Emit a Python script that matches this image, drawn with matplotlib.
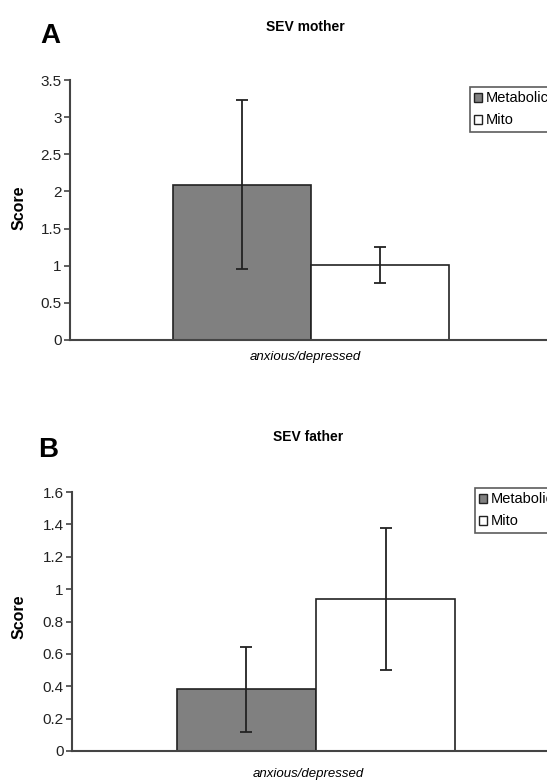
import matplotlib.pyplot as plt
from matplotlib.patches import Patch

plt.rcParams['font.family'] = ['Liberation Sans', 'DejaVu Sans']

groups = ["Metabolic", "Mito"]
category = "anxious/depressed"

mother_means = [2.09, 1.01]
mother_err = [1.14, 0.245]
mother_ticks = [0, 0.5, 1, 1.5, 2, 2.5, 3, 3.5]
mother_tick_labels = ["0", "0.5", "1", "1.5", "2", "2.5", "3", "3.5"]

father_means = [0.38, 0.94]
father_err = [0.265, 0.44]
father_ticks = [0, 0.2, 0.4, 0.6, 0.8, 1, 1.2, 1.4, 1.6]
father_tick_labels = ["0", "0.2", "0.4", "0.6", "0.8", "1", "1.2", "1.4", "1.6"]

colors = ["#808080", "white"]

W, H = 547, 782
fig = plt.figure(figsize=(W / 100, H / 100), dpi=100)


def panel(rect, means, errs, ticks, tick_labels, title, letter,
          letter_xy, title_xy, score_xy, cat_xy, legend_xy):
    ax = fig.add_axes(rect)
    xpos = [-0.5, 0.5]
    ax.bar(xpos, means, width=1.0, color=colors, edgecolor="#222222",
           linewidth=1.2, zorder=2)
    ax.errorbar(xpos, means, yerr=errs, fmt="none", ecolor="#222222",
                elinewidth=1.3, capsize=4.5, capthick=1.3, zorder=3)
    ax.set_xlim(-1.75, 1.75)
    ax.set_ylim(ticks[0], ticks[-1])
    ax.set_yticks(ticks)
    ax.set_yticklabels(tick_labels, fontsize=11, color="#222222")
    ax.set_xticks([])
    for s in ["top", "right"]:
        ax.spines[s].set_visible(False)
    for s in ["left", "bottom"]:
        ax.spines[s].set_color("#444444")
        ax.spines[s].set_linewidth(1.5)
    ax.tick_params(axis="y", direction="out", length=4, width=1.2,
                   color="#444444", pad=2)

    fig.text(letter_xy[0] / W, 1 - letter_xy[1] / H, letter, fontsize=20,
             fontweight="bold", ha="center", va="center")
    fig.text(title_xy[0] / W, 1 - title_xy[1] / H, title, fontsize=10,
             fontweight="bold", ha="center", va="center")
    fig.text(score_xy[0] / W, 1 - score_xy[1] / H, "Score", fontsize=11.5,
             fontweight="bold", rotation=90, ha="center", va="center")
    fig.text(cat_xy[0] / W, 1 - cat_xy[1] / H, category, fontsize=9.5,
             style="italic", ha="center", va="center")

    # legend box runs past the right edge of the figure
    handles = [Patch(facecolor=c, edgecolor="#222222", linewidth=1.0)
               for c in colors]
    leg = fig.legend(handles, groups, loc="upper left",
                     bbox_to_anchor=(legend_xy[0] / W, 1 - legend_xy[1] / H),
                     fontsize=10.5, frameon=True, fancybox=False,
                     handlelength=0.55, handleheight=0.6, handletextpad=0.25,
                     borderpad=0.3, labelspacing=0.55, borderaxespad=0)
    leg.get_frame().set_edgecolor("#333333")
    leg.get_frame().set_linewidth(1.2)
    return ax


panel([70 / W, 1 - 340 / H, 482 / W, 260 / H],
      mother_means, mother_err, mother_ticks, mother_tick_labels,
      "SEV mother", "A", (50, 36), (305, 27), (19, 208), (305, 357),
      (470, 87))

panel([72 / W, 1 - 751 / H, 488 / W, 259 / H],
      father_means, father_err, father_ticks, father_tick_labels,
      "SEV father", "B", (48, 450), (308, 437), (19, 617), (308, 774),
      (475, 488))

fig.savefig("out.png", dpi=100)
